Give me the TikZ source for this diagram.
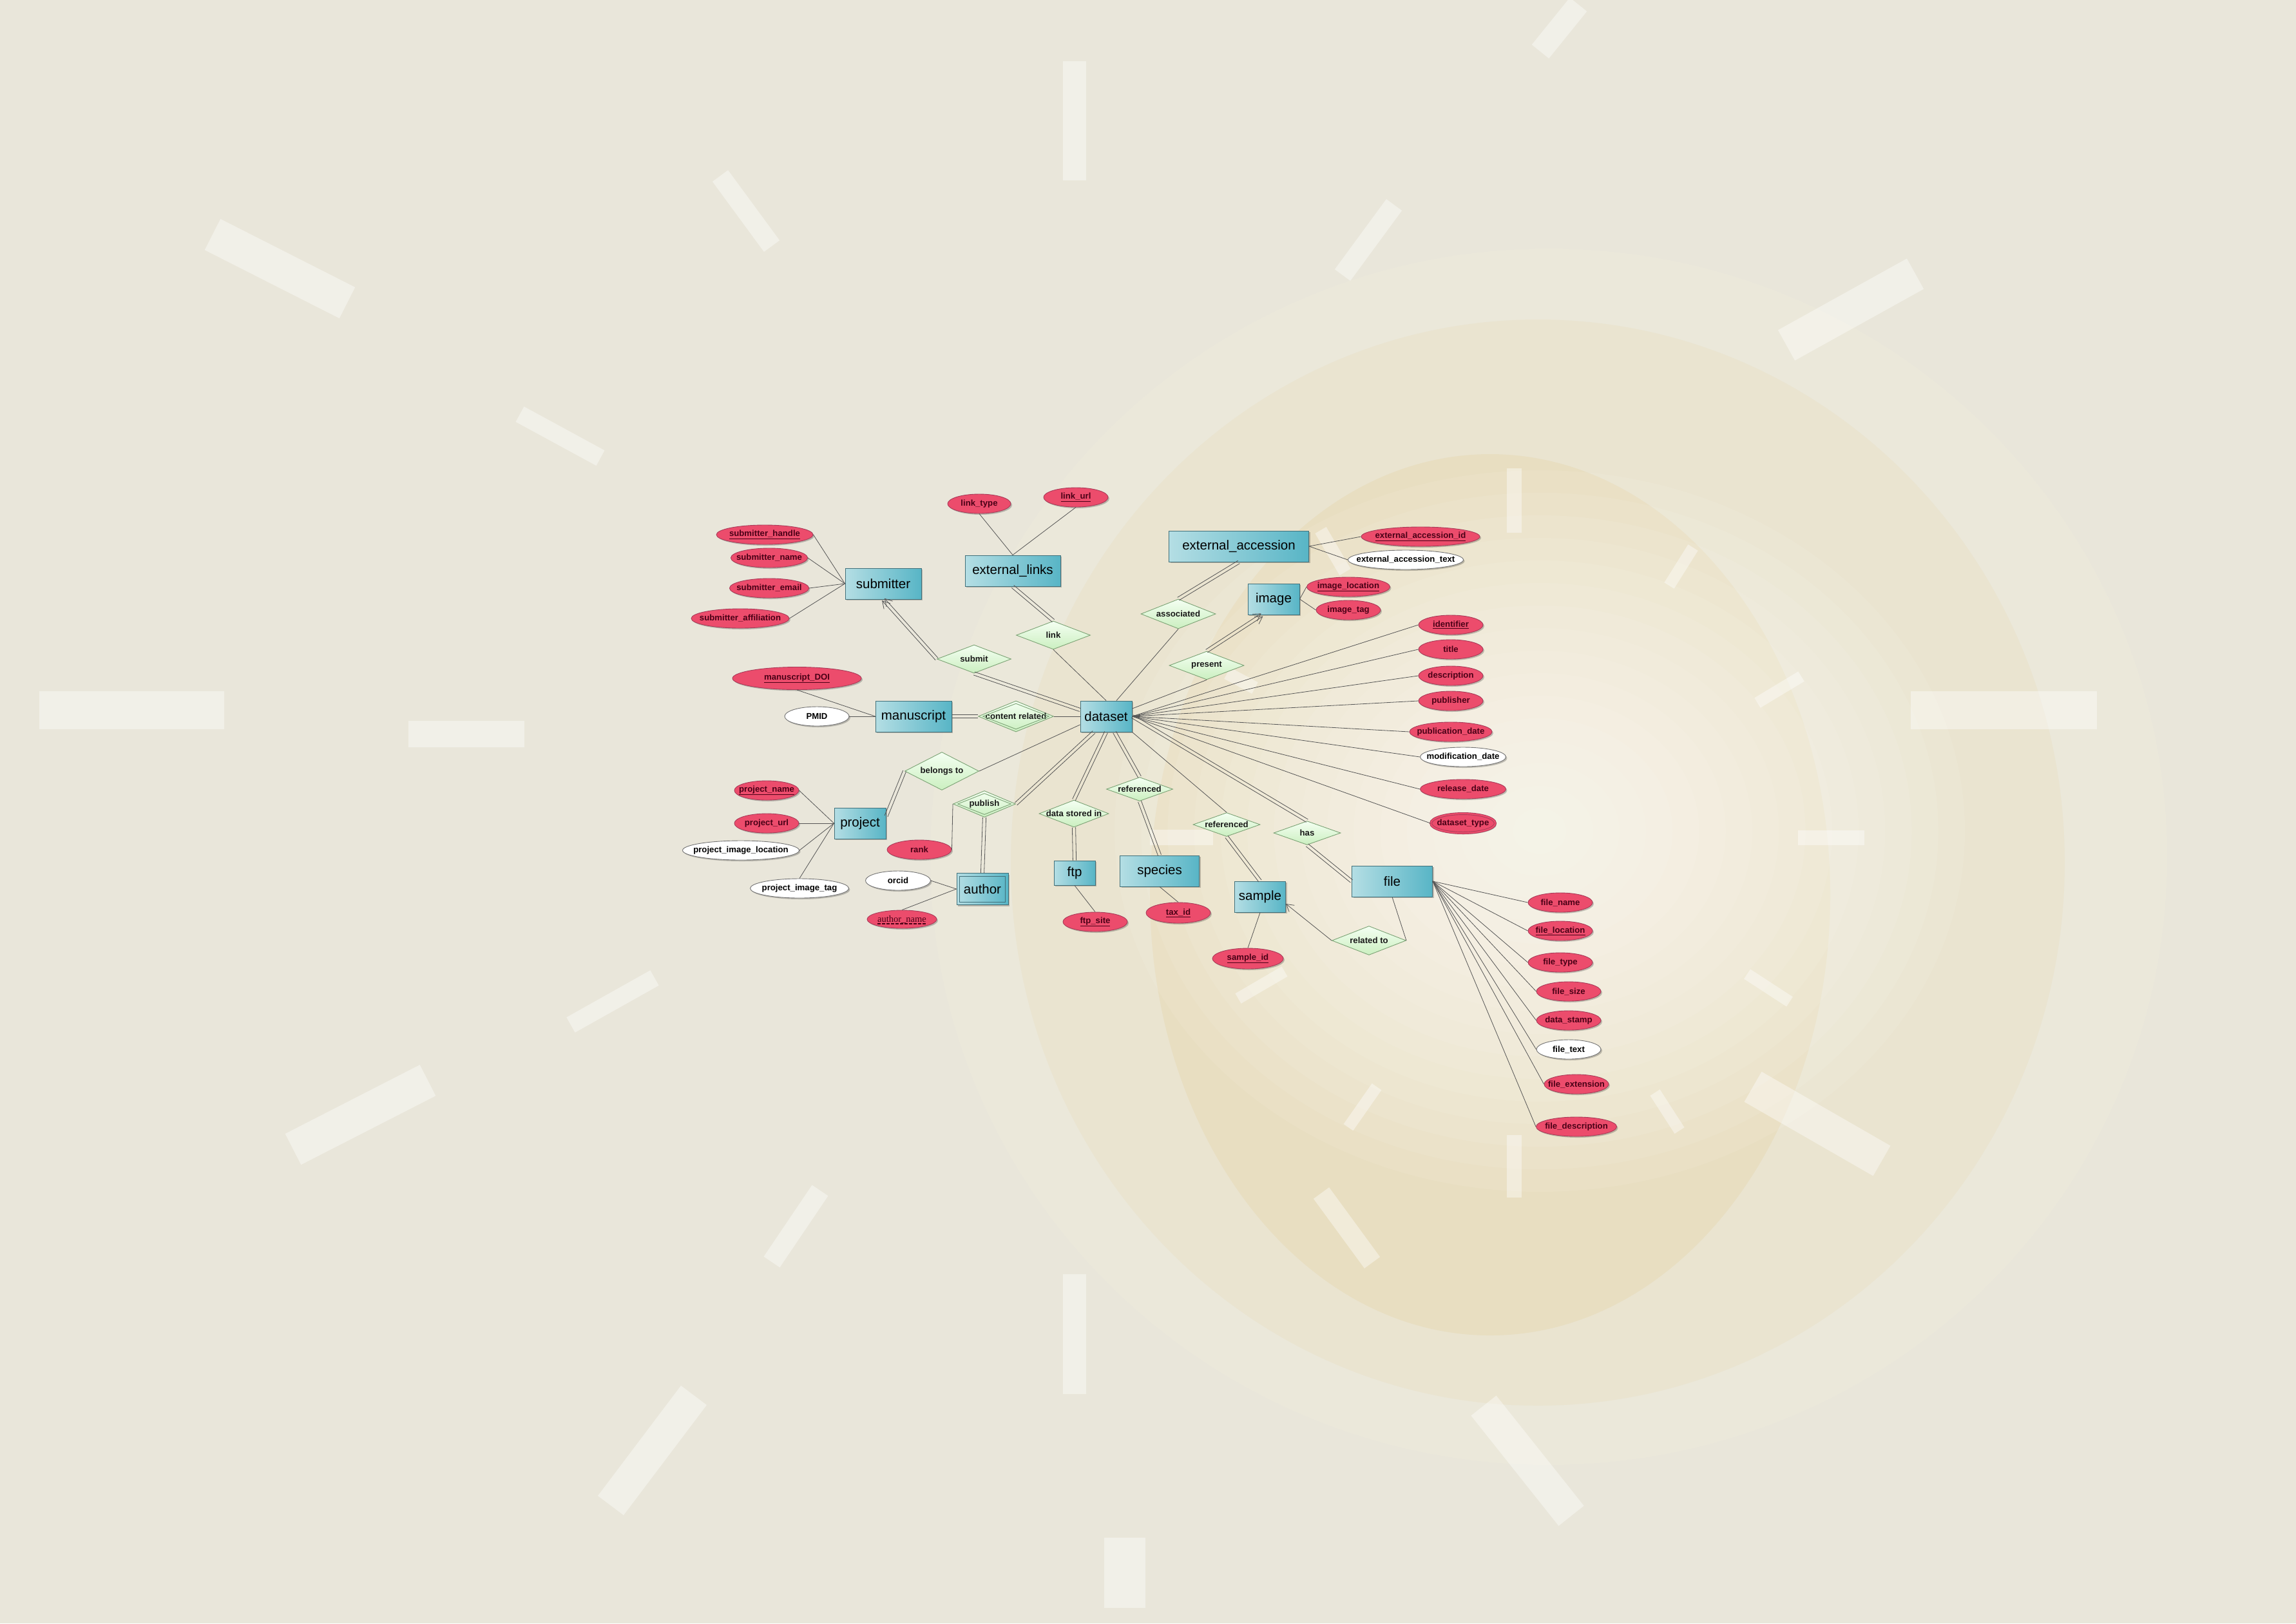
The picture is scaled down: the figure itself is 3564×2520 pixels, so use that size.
\documentclass[tikz,border=0pt]{standalone}
\usepackage{fontspec}
\setmainfont{Liberation Sans}
\newfontfamily\serifa{Liberation Serif}
\usetikzlibrary{shapes.geometric,calc,arrows.meta,shadows}
\definecolor{bgc}{HTML}{E9E6DA}
\definecolor{ringA}{HTML}{EBE8DA}
\definecolor{ringB}{HTML}{EAE4D0}
\definecolor{ringC}{HTML}{E8DEC1}
\definecolor{glowC}{HTML}{FFFEF8}
\definecolor{entL}{HTML}{B4DEE4}
\definecolor{entR}{HTML}{58B5C6}
\definecolor{entB}{HTML}{41707A}
\definecolor{redF}{HTML}{EC4C6C}
\definecolor{redB}{HTML}{A83A58}
\definecolor{redT}{HTML}{4A0016}
\definecolor{relT}{HTML}{F4FFF2}
\definecolor{relBot}{HTML}{CBEFC0}
\definecolor{relB}{HTML}{7BA274}
\definecolor{lineC}{HTML}{555555}
\newcommand\N[1]{\makebox[0pt]{#1}}
\newcommand\K[1]{\makebox[0pt]{\underline{#1}}}
\newcommand\dline[3][]{%
  \draw[conn,#1] ($(#2)!2.6pt!90:(#3)$) -- ($(#3)!2.6pt!-90:(#2)$);
  \draw[conn,#1] ($(#2)!2.6pt!-90:(#3)$) -- ($(#3)!2.6pt!90:(#2)$);}
\begin{document}
\begin{tikzpicture}[x=1pt,y=-1pt,
  shd/.style={drop shadow={shadow xshift=2pt,shadow yshift=-2pt,opacity=.22,fill=black}},
  ent/.style={rectangle, draw=entB, line width=1, left color=entL, right color=entR, inner sep=0, font=\fontsize{20.5}{24}\selectfont, text=black, shd},
  attr/.style={ellipse, draw=redB, fill=redF, line width=0.9, inner sep=0, minimum height=30, font=\bfseries\fontsize{13.2}{15}\selectfont, text=redT, shd},
  wattr/.style={attr, draw=black!55, fill=white, text=black},
  rel/.style={diamond, draw=relB, top color=relT, bottom color=relBot, inner sep=0, line width=0.9, font=\bfseries\fontsize{13.2}{15}\selectfont, text=black!90},
  relin/.style={diamond, draw=relB, inner sep=0, line width=0.9},
  conn/.style={draw=lineC, line width=0.8},
  arw/.style={-{Straight Barb[length=11pt,width=13pt]}},
  tick/.style={draw=white, draw opacity=.4, line cap=butt}]
\useasboundingbox (0,0) rectangle (3564,2520);
% background
\fill[bgc] (0,0) rectangle (3564,2520);
\fill[ringA] (2404,1330) ellipse (960 and 944);
\fill[ringB] (2387,1339) ellipse (818 and 843);
\fill[ringC] (2313,1389) ellipse (528 and 684);
\foreach \r in {1,...,16}
  \fill[glowC, opacity=.09] (2390,1290) ellipse ({41.25*\r} and {35*\r});
% decorative ticks
\foreach \a/\b/\c/\d/\w in {1668/95/1668/280/36, 1668/1978/1668/2164/36, 61/1102/348/1102/59,
  2966/1102/3255/1102/59, 634/1139/814/1139/41, 2450/7/2391/80/34, 2973/425/2773/536/54,
  330/364/539/470/54, 1118/273/1198/382/30, 807/643/932/711/27, 886/1591/1016/1518/27,
  455/1784/664/1677/54, 1198/1959/1273/1848/30, 948/2337/1077/2166/50, 1746/2387/1746/2496/64,
  2303/2182/2439/2353/50, 2721/1687/2921/1802/54, 2084/427/2164/318/30, 2051/1852/2130/1960/30,
  2350/727/2350/827/23, 2350/1762/2350/1859/23, 2791/1300/2894/1300/23, 1785/1300/1883/1300/24,
  2591/909/2628/850/18, 2728/1091/2796/1050/18, 2712/1512/2778/1555/18, 2569/1696/2607/1755/18,
  2093/1750/2137/1687/18, 1922/1550/1994/1508/18, 2050/823/2088/888/20, 1905/1045/1948/1068/20}
  \draw[tick, line width=\w] (\a,\b) -- (\c,\d);
% entities
\node[ent, minimum width=118, minimum height=48] (sub) at (1371,906) {submitter};
\node[ent, minimum width=148, minimum height=48] (extl) at (1572,886) {external\_links};
\node[ent, minimum width=118, minimum height=48] (man) at (1418,1112) {manuscript};
\node[ent, minimum width=80, minimum height=48] (ds) at (1717,1112) {dataset};
\node[ent, minimum width=80, minimum height=48] (proj) at (1335,1278) {project};
\node[ent, minimum width=80, minimum height=49] (auth) at (1525,1380) {author};
\draw[draw=entB, line width=1] ($(auth.north west)+(5,5)$) rectangle ($(auth.south east)+(-5,-5)$);
\node[ent, minimum width=64, minimum height=38] (ftp) at (1668,1355) {ftp};
\node[ent, minimum width=123, minimum height=48] (spec) at (1800,1352) {species};
\node[ent, minimum width=79, minimum height=48] (samp) at (1956,1392) {sample};
\node[ent, minimum width=125, minimum height=48] (file) at (2161,1368) {file};
\node[ent, minimum width=217, minimum height=48] (exta) at (1923,848) {external\_accession};
\node[ent, minimum width=80, minimum height=48] (img) at (1977,930) {image};
% relationships
\node[rel, minimum width=115, minimum height=44] (submit) at (1512,1023) {\N{submit}};
\node[rel, minimum width=115, minimum height=44] (link) at (1635,986) {\N{link}};
\node[rel, minimum width=117, minimum height=48] (crel) at (1577,1112) {\N{content related}};
\node[relin, minimum width=103, minimum height=40] (crelin) at (1577,1112) {};
\node[rel, minimum width=115, minimum height=59] (belongs) at (1462,1197) {\N{belongs to}};
\node[rel, minimum width=97, minimum height=41] (publish) at (1528,1248) {\N{publish}};
\node[relin, minimum width=83, minimum height=33] (publishin) at (1528,1248) {};
\node[rel, minimum width=108, minimum height=42] (dstore) at (1667,1263) {\N{data stored in}};
\node[rel, minimum width=103, minimum height=37] (ref1) at (1769,1225) {\N{referenced}};
\node[rel, minimum width=104, minimum height=37] (ref2) at (1904,1280) {\N{referenced}};
\node[rel, minimum width=104, minimum height=37] (has) at (2029,1293) {\N{has}};
\node[rel, minimum width=115, minimum height=45] (relto) at (2125,1460) {\N{related to}};
\node[rel, minimum width=116, minimum height=46] (assoc) at (1829,953) {\N{associated}};
\node[rel, minimum width=116, minimum height=44] (present) at (1873,1033) {\N{present}};
% attributes
\node[attr, minimum width=150] (ash) at (1187,830) {\K{submitter\_handle}};
\node[attr, minimum width=119] (asn) at (1194,866) {\N{submitter\_name}};
\node[attr, minimum width=123] (ase) at (1194,913) {\N{submitter\_email}};
\node[attr, minimum width=152] (asa) at (1149,960) {\N{submitter\_affiliation}};
\node[attr, minimum width=98] (alt) at (1520,782) {\N{link\_type}};
\node[attr, minimum width=100] (alu) at (1670,772) {\K{link\_url}};
\node[attr, minimum width=200, minimum height=35] (adoi) at (1237,1053) {\K{manuscript\_DOI}};
\node[wattr, minimum width=100] (apmid) at (1268,1112) {\N{PMID}};
\node[attr, minimum width=100] (apn) at (1190,1227) {\K{project\_name}};
\node[attr, minimum width=100] (apu) at (1190,1278) {\N{project\_url}};
\node[wattr, minimum width=181] (apil) at (1150,1320) {\N{project\_image\_location}};
\node[wattr, minimum width=153] (apit) at (1241,1379) {\N{project\_image\_tag}};
\node[attr, minimum width=100] (arank) at (1427,1319) {\N{rank}};
\node[wattr, minimum width=101] (aorcid) at (1394,1367) {\N{orcid}};
\node[attr, minimum width=108, minimum height=28, font=\serifa\fontsize{14.5}{16}\selectfont] (aan) at (1400,1427) {\N{author\_name}};
\draw[redT, line width=1.1, dash pattern=on 5pt off 2pt] ($(aan.center)+(-38,7)$) -- ($(aan.center)+(38,7)$);
\node[attr, minimum width=100] (aftp) at (1700,1431) {\K{ftp\_site}};
\node[attr, minimum width=100, minimum height=32] (atax) at (1829,1417) {\K{tax\_id}};
\node[attr, minimum width=110, minimum height=32] (asid) at (1937,1488) {\K{sample\_id}};
\node[attr, minimum width=184] (aeai) at (2205,833) {\K{external\_accession\_id}};
\node[wattr, minimum width=179] (aeat) at (2182,869) {\N{external\_accession\_text}};
\node[attr, minimum width=129] (ail) at (2093,911) {\K{image\_location}};
\node[attr, minimum width=100] (ait) at (2093,947) {\N{image\_tag}};
\node[attr, minimum width=100] (aid) at (2252,970) {\K{identifier}};
\node[attr, minimum width=100] (atitle) at (2252,1008) {\N{title}};
\node[attr, minimum width=100] (adesc) at (2252,1049) {\N{description}};
\node[attr, minimum width=100] (apub) at (2252,1088) {\N{publisher}};
\node[attr, minimum width=128] (apd) at (2252,1136) {\N{publication\_date}};
\node[wattr, minimum width=133] (amd) at (2271,1175) {\N{modification\_date}};
\node[attr, minimum width=133] (ard) at (2271,1225) {\N{release\_date}};
\node[attr, minimum width=100, double=redF, double distance=2.2] (adt) at (2271,1278) {\N{dataset\_type}};
\node[attr, minimum width=100] (afn) at (2422,1401) {\N{file\_name}};
\node[attr, minimum width=100] (afl) at (2422,1445) {\K{file\_location}};
\node[attr, minimum width=100] (aft) at (2422,1494) {\N{file\_type}};
\node[attr, minimum width=100] (afs) at (2435,1539) {\N{file\_size}};
\node[attr, minimum width=100] (afd) at (2435,1584) {\N{data\_stamp}};
\node[wattr, minimum width=100] (aftx) at (2435,1629) {\N{file\_text}};
\node[attr, minimum width=100] (afe) at (2447,1683) {\N{file\_extension}};
\node[attr, minimum width=125] (afdesc) at (2447,1749) {\N{file\_description}};
% helper coordinates
\coordinate (dsA) at ($(ds.west)+(0,-10)$);
\coordinate (dsB) at ($(ds.west)+(0,13)$);
\coordinate (dsC) at ($(ds.south)+(-19,0)$);
\coordinate (dsD) at ($(ds.south)+(13,0)$);
\coordinate (dsE) at ($(ds.north)+(16,0)$);
\coordinate (dsF) at ($(ds.east)+(0,-12)$);
\coordinate (projA) at ($(proj.east)+(0,-11)$);
\coordinate (imgA) at ($(img.south)+(-18,0)$);
\coordinate (sampA) at ($(samp.east)+(0,11)$);
% attribute connectors
\foreach \a in {ash,asn,ase,asa} \draw[conn] (\a.east) -- (sub.west);
\foreach \a in {alt,alu} \draw[conn] (\a.south) -- (extl.north);
\draw[conn] (adoi.south) -- (man.west);
\draw[conn] (apmid.east) -- (man.west);
\foreach \a in {apn,apu,apil} \draw[conn] (\a.east) -- (proj.west);
\draw[conn] (apit.north) -- (proj.west);
\draw[conn] (aorcid.east) -- (auth.west);
\draw[conn] (aan.north) -- (auth.west);
\draw[conn] (ftp.south) -- (aftp.north);
\draw[conn] (spec.south) -- (atax.north);
\draw[conn] (samp.south) -- (asid.north);
\foreach \a in {aeai,aeat} \draw[conn] (exta.east) -- (\a.west);
\foreach \a in {ail,ait} \draw[conn] (img.east) -- (\a.west);
\foreach \a in {aid,atitle,adesc,apub,apd,amd,ard,adt} \draw[conn] (ds.east) -- (\a.west);
\foreach \a in {afn,afl,aft,afs,afd,aftx,afe,afdesc} \draw[conn] (file.east) -- (\a.west);
% relationship connectors
\dline[arw]{submit.west}{sub.south}
\dline{submit.south}{dsA}
\dline{extl.south}{link.north}
\draw[conn] (link.south) -- (ds.north);
\dline{man.east}{crel.west}
\draw[conn] (crel.east) -- (ds.west);
\draw[conn] (belongs.east) -- (dsB);
\dline{belongs.west}{projA}
\dline{publish.east}{dsC}
\dline{publish.south}{auth.north}
\draw[conn] (publish.west) -- (arank.east);
\dline{dstore.north}{ds.south}
\dline{dstore.south}{ftp.north}
\dline{ref1.north}{dsD}
\dline{ref1.south}{spec.north}
\draw[conn] (ref2.north) -- (ds.south east);
\dline{ref2.south}{samp.north}
\dline{has.north}{ds.east}
\dline{has.south}{file.west}
\draw[conn, arw] (relto.west) -- (sampA);
\draw[conn] (relto.east) -- (file.south);
\dline{assoc.north}{exta.south}
\draw[conn] (assoc.south) -- (dsE);
\dline[arw]{present.north}{imgA}
\draw[conn] (present.south) -- (dsF);
\end{tikzpicture}
\end{document}
